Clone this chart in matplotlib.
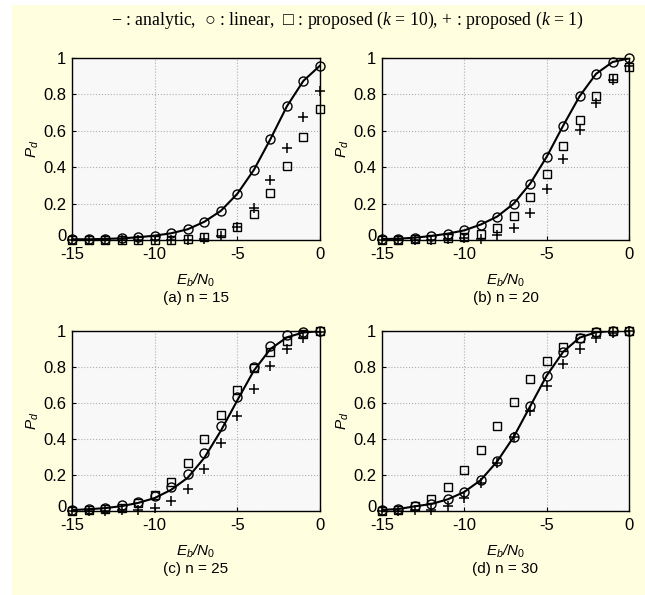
import numpy as np
import matplotlib
matplotlib.use('Agg')
import matplotlib.pyplot as plt
import matplotlib.transforms as mtransforms
from matplotlib.patches import Rectangle

plt.rcParams['font.family'] = ['Liberation Sans', 'DejaVu Sans']
plt.rcParams['mathtext.fontset'] = 'custom'
plt.rcParams['mathtext.rm'] = 'Liberation Sans'
plt.rcParams['mathtext.sf'] = 'Liberation Sans:italic'
plt.rcParams['mathtext.it'] = 'Liberation Serif:italic'

ebn0 = np.arange(-15, 1)

# (a) n = 15
a_analytic = [0.004, 0.004, 0.006, 0.009, 0.015, 0.024, 0.037, 0.059, 0.10, 0.16,
              0.254, 0.385, 0.554, 0.735, 0.875, 0.958]
a_linear = a_analytic
a_k10 = [0.002, 0.002, 0.002, 0.002, 0.002, 0.002, 0.002, 0.005, 0.015, 0.037,
         0.072, 0.144, 0.26, 0.405, 0.565, 0.718]
a_k1 = [0.0, 0.0, 0.0, 0.0, 0.0, 0.0, 0.0, 0.0, 0.005, 0.02,
        0.074, 0.175, 0.33, 0.505, 0.676, 0.816]

# (b) n = 20
b_analytic = [0.005, 0.007, 0.013, 0.022, 0.035, 0.053, 0.085, 0.129, 0.2, 0.31,
              0.457, 0.628, 0.79, 0.913, 0.978, 0.998]
b_linear = b_analytic
b_k10 = [0.002, 0.002, 0.003, 0.005, 0.009, 0.015, 0.035, 0.068, 0.134, 0.234,
         0.365, 0.514, 0.661, 0.79, 0.89, 0.952]
b_k1 = [0.001, 0.001, 0.002, 0.002, 0.003, 0.01, 0.005, 0.03, 0.066, 0.151,
        0.282, 0.446, 0.606, 0.753, 0.877, 0.956]

# (c) n = 25
c_analytic = [0.005, 0.01, 0.016, 0.027, 0.045, 0.072, 0.118, 0.185, 0.295, 0.445,
              0.615, 0.78, 0.9, 0.965, 0.992, 0.999]
c_linear = [0.004, 0.011, 0.018, 0.031, 0.052, 0.083, 0.133, 0.207, 0.325, 0.47,
            0.636, 0.8, 0.919, 0.98, 0.996, 1.0]
c_k10 = [0.002, 0.004, 0.009, 0.018, 0.046, 0.089, 0.163, 0.268, 0.4, 0.536,
         0.67, 0.797, 0.884, 0.946, 0.985, 1.0]
c_k1 = [0.0, 0.0, 0.002, 0.004, 0.007, 0.018, 0.055, 0.124, 0.235, 0.377,
        0.53, 0.68, 0.808, 0.9, 0.963, 0.996]

# (d) n = 30
d_analytic = [0.006, 0.011, 0.026, 0.039, 0.065, 0.106, 0.172, 0.276, 0.412, 0.582,
              0.752, 0.884, 0.963, 0.993, 1.0, 1.0]
d_linear = d_analytic
d_k10 = [0.002, 0.006, 0.03, 0.069, 0.136, 0.23, 0.34, 0.472, 0.603, 0.731,
         0.832, 0.909, 0.963, 0.993, 1.0, 1.0]
d_k1 = [0.0, 0.0, 0.006, 0.004, 0.028, 0.071, 0.153, 0.269, 0.41, 0.558,
        0.694, 0.815, 0.901, 0.961, 0.987, 1.0]

panels = [
    ('(a) n = 15', a_analytic, a_linear, a_k10, a_k1),
    ('(b) n = 20', b_analytic, b_linear, b_k10, b_k1),
    ('(c) n = 25', c_analytic, c_linear, c_k10, c_k1),
    ('(d) n = 30', d_analytic, d_linear, d_k10, d_k1),
]
xticks = [-15, -10, -5, 0]
yticks = [0, 0.2, 0.4, 0.6, 0.8, 1]
ytick_labels = ['0', '0.2', '0.4', '0.6', '0.8', '1']

W, H = 645, 595
fig = plt.figure(figsize=(W / 100, H / 100), dpi=100)
fig.patch.set_facecolor('white')
fig.patches.append(Rectangle((12 / W, 0), 1 - 12 / W, 1 - 5 / H, transform=fig.transFigure,
                             facecolor='#ffffe0', edgecolor='none', zorder=-10))

# axes boxes in pixels: left, top, right, bottom
boxes = [(72, 58, 320, 240), (382, 58, 629, 240),
         (72, 331, 320, 511), (382, 331, 629, 511)]

for (sub, ana, lin, k10, k1), (l, t, r, b) in zip(panels, boxes):
    ax = fig.add_axes([l / W, 1 - b / H, (r - l) / W, (b - t) / H])
    ax.set_facecolor('#f8f8f8')
    ax.plot(ebn0, ana, color='black', lw=1.5, zorder=3)
    ax.plot(ebn0, lin, 'o', mfc='none', mec='black', ms=6.5, mew=1.0, zorder=4, clip_on=False)
    ax.plot(ebn0, k10, 's', mfc='none', mec='black', ms=5.2, mew=1.0, zorder=4, clip_on=False)
    ax.plot(ebn0, k1, '+', color='black', ms=6.5, mew=1.1, zorder=4, clip_on=False)
    ax.set_xlim(-15, 0)
    ax.set_ylim(0, 1)
    ax.set_xticks(xticks)
    ax.set_xticklabels([str(v) for v in xticks])
    ax.set_yticks(yticks)
    ax.set_yticklabels(ytick_labels)
    ax.grid(True, color='#b0b0b0', linestyle=':', linewidth=0.8)
    ax.tick_params(direction='in', length=3, labelsize=12)
    ax.tick_params(axis='x', pad=5)
    ax.tick_params(axis='y', pad=4)
    for s in ax.spines.values():
        s.set_linewidth(1.0)
    # the zero label sits a little higher in the original
    lab0 = ax.get_yticklabels()[0]
    lab0.set_transform(lab0.get_transform() + mtransforms.ScaledTranslation(0, 5 / 100, fig.dpi_scale_trans))
    ax.set_xlabel(r'$\mathsf{E}_\mathsf{b}\mathsf{/N}_\mathrm{0}$', fontsize=11, labelpad=7)
    ax.set_ylabel(r'$\mathsf{P}_\mathsf{d}$', fontsize=11, labelpad=2)
    cx = (l + r) / 2
    fig.text(cx / W, 1 - (b + 58) / H, sub, ha='center', va='center', fontsize=11)

fig.text(347 / W, 1 - 20 / H,
         '\u2212 : analytic,  \u25cb : linear,  \u25a1 : proposed ($k$ = 10), + : proposed ($k$ = 1)',
         ha='center', va='center', fontsize=12.8, family=['Liberation Serif', 'DejaVu Serif'])

fig.savefig('out.png', dpi=100)
